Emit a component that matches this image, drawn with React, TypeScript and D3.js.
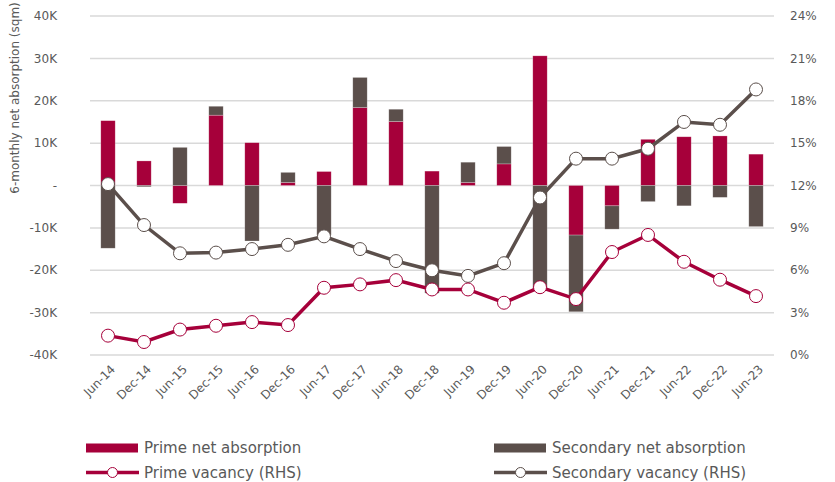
import React, { useRef, useEffect } from "react";
import * as d3 from "d3";

const periods = [
  "Jun-14", "Dec-14", "Jun-15", "Dec-15", "Jun-16", "Dec-16", "Jun-17", "Dec-17",
  "Jun-18", "Dec-18", "Jun-19", "Dec-19", "Jun-20", "Dec-20", "Jun-21", "Dec-21",
  "Jun-22", "Dec-22", "Jun-23",
];
// net absorption, thousand sqm
const primeAbsorption = [
  15.3, 5.8, -4.2, 16.6, 10.1, 0.7, 3.3, 18.4, 15.1, 3.4,
  0.7, 5.1, 30.6, -11.7, -4.8, 10.9, 11.5, 11.7, 7.4,
];
const secondaryAbsorption = [
  -14.8, -0.3, 9.0, 2.1, -13.1, 2.4, -11.7, 7.1, 2.9, -25.4,
  4.8, 4.1, -24.6, -18.1, -5.5, -3.8, -4.8, -2.8, -9.7,
];
// vacancy, %
const primeVacancy = [
  1.37, 0.92, 1.8, 2.07, 2.33, 2.12, 4.76, 5.0, 5.3, 4.64,
  4.64, 3.7, 4.8, 3.96, 7.29, 8.5, 6.6, 5.33, 4.17,
];
const secondaryVacancy = [
  12.1, 9.2, 7.2, 7.25, 7.5, 7.8, 8.4, 7.5, 6.65, 6.0,
  5.6, 6.5, 11.15, 13.9, 13.9, 14.6, 16.5, 16.3, 18.8,
];
const leftTicks = [-40, -30, -20, -10, 0, 10, 20, 30, 40];
const rightTicks = [0, 3, 6, 9, 12, 15, 18, 21, 24];

const PRIME = "#A6003A";
const SECOND = "#5B4F4B";
const TEXT = "#595959";
const FONT = "'DejaVu Sans', Lato, sans-serif";

const W = 835;
const H = 482;
const plot = { left: 90, right: 774, top: 16, bottom: 355 };

export default function App() {
  const ref = useRef<SVGSVGElement>(null);

  useEffect(() => {
    const svg = d3.select(ref.current);
    svg.selectAll("*").remove();

    const x = d3.scaleBand().domain(periods).range([plot.left, plot.right]);
    const yL = d3.scaleLinear().domain([-40, 40]).range([plot.bottom, plot.top]);
    const yR = d3.scaleLinear().domain([0, 24]).range([plot.bottom, plot.top]);

    // gridlines
    svg
      .append("g")
      .selectAll("line")
      .data(leftTicks)
      .enter()
      .append("line")
      .attr("x1", plot.left)
      .attr("x2", plot.right)
      .attr("y1", (d) => yL(d))
      .attr("y2", (d) => yL(d))
      .attr("stroke", "#D9D9D9")
      .attr("stroke-width", 1.5);

    // left axis labels
    svg
      .append("g")
      .selectAll("text")
      .data(leftTicks)
      .enter()
      .append("text")
      .attr("x", 57)
      .attr("y", (d) => yL(d))
      .attr("dy", "0.35em")
      .attr("text-anchor", "end")
      .attr("font-family", FONT)
      .attr("font-size", 12)
      .attr("fill", TEXT)
      .text((d) => (d === 0 ? "-" : `${d}K`));

    // right axis labels
    svg
      .append("g")
      .selectAll("text")
      .data(rightTicks)
      .enter()
      .append("text")
      .attr("x", 790)
      .attr("y", (d) => yR(d))
      .attr("dy", "0.35em")
      .attr("font-family", FONT)
      .attr("font-size", 12)
      .attr("fill", TEXT)
      .text((d) => `${d}%`);

    // y title
    svg
      .append("text")
      .attr("transform", `translate(15, 98) rotate(-90)`)
      .attr("text-anchor", "middle")
      .attr("dy", "0.35em")
      .attr("font-family", FONT)
      .attr("font-size", 12)
      .attr("fill", TEXT)
      .text("6-monthly net absorption (sqm)");

    // stacked bars (positives stack up, negatives stack down)
    const bw = x.bandwidth() * 0.4;
    const bars = svg.append("g");
    periods.forEach((p, i) => {
      let pos = 0;
      let neg = 0;
      [
        { v: primeAbsorption[i], c: PRIME },
        { v: secondaryAbsorption[i], c: SECOND },
      ].forEach(({ v, c }) => {
        let y0, y1;
        if (v >= 0) {
          y0 = pos;
          y1 = pos + v;
          pos = y1;
        } else {
          y0 = neg;
          y1 = neg + v;
          neg = y1;
        }
        bars
          .append("rect")
          .attr("x", x(p)! + x.bandwidth() / 2 - bw / 2)
          .attr("width", bw)
          .attr("y", yL(Math.max(y0, y1)))
          .attr("height", Math.abs(yL(y0) - yL(y1)))
          .attr("fill", c)
          .attr("stroke", "#ffffff")
          .attr("stroke-opacity", 0.4)
          .attr("stroke-width", 0.6);
      });
    });

    // x labels
    svg
      .append("g")
      .selectAll("text")
      .data(periods)
      .enter()
      .append("text")
      .attr(
        "transform",
        (d) => `translate(${x(d)! + x.bandwidth() / 2 + 5}, ${plot.bottom + 12}) rotate(-45)`
      )
      .attr("text-anchor", "end")
      .attr("dy", "0.35em")
      .attr("font-family", FONT)
      .attr("font-size", 12)
      .attr("fill", TEXT)
      .text((d) => d);

    // vacancy lines
    const cx = (i: number) => x(periods[i])! + x.bandwidth() / 2;
    const drawLine = (vals: number[], color: string) => {
      const line = d3
        .line<number>()
        .x((_, i) => cx(i))
        .y((d) => yR(d));
      svg
        .append("path")
        .datum(vals)
        .attr("d", line)
        .attr("fill", "none")
        .attr("stroke", color)
        .attr("stroke-width", 3.5);
      svg
        .append("g")
        .selectAll("circle")
        .data(vals)
        .enter()
        .append("circle")
        .attr("cx", (_, i) => cx(i))
        .attr("cy", (d) => yR(d))
        .attr("r", 6.5)
        .attr("fill", "#ffffff")
        .attr("stroke", color)
        .attr("stroke-width", 1);
    };
    drawLine(secondaryVacancy, SECOND);
    drawLine(primeVacancy, PRIME);

    // legend
    const legend = svg.append("g").attr("font-family", FONT).attr("font-size", 15).attr("fill", TEXT);
    const items = [
      { label: "Prime net absorption", color: PRIME, type: "bar", lx: 86, ly: 448 },
      { label: "Secondary net absorption", color: SECOND, type: "bar", lx: 494, ly: 448 },
      { label: "Prime vacancy (RHS)", color: PRIME, type: "line", lx: 86, ly: 472.5 },
      { label: "Secondary vacancy (RHS)", color: SECOND, type: "line", lx: 494, ly: 472.5 },
    ];
    items.forEach((it) => {
      if (it.type === "bar") {
        legend
          .append("rect")
          .attr("x", it.lx)
          .attr("y", it.ly - 4.5)
          .attr("width", 52)
          .attr("height", 9)
          .attr("fill", it.color);
      } else {
        legend
          .append("line")
          .attr("x1", it.lx)
          .attr("x2", it.lx + 53)
          .attr("y1", it.ly)
          .attr("y2", it.ly)
          .attr("stroke", it.color)
          .attr("stroke-width", 3.5);
        legend
          .append("circle")
          .attr("cx", it.lx + 26.5)
          .attr("cy", it.ly)
          .attr("r", 5)
          .attr("fill", "#fff")
          .attr("stroke", it.color)
          .attr("stroke-width", 1);
      }
      legend
        .append("text")
        .attr("x", it.lx + 58)
        .attr("y", it.ly)
        .attr("dy", "0.35em")
        .text(it.label);
    });
  }, []);

  return (
    <svg
      ref={ref}
      width={W}
      height={H}
      style={{ position: "absolute", left: 0, top: 0, background: "#fff" }}
    ></svg>
  );
}
